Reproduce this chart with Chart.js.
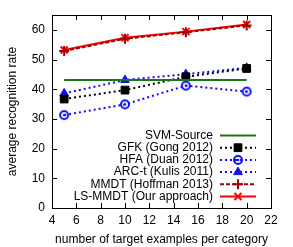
<!DOCTYPE html>
<html>
<head>
<meta charset="utf-8">
<script src="https://cdn.jsdelivr.net/npm/chart.js@4.4.1/dist/chart.umd.min.js"></script>
<style>
  body { margin: 0; background: #fff; }
  canvas { display: block; }
</style>
</head>
<body>
<canvas id="chart" width="293" height="247"></canvas>
<script>
// values
const examples = [5, 10, 15, 20];
const svmSource = [43.1, 43.1, 43.1, 43.1];
const gfk = [36.7, 39.7, 44.2, 47.0];
const hfa = [31.3, 34.9, 41.2, 39.2];
const arct = [38.6, 43.1, 45.1, 47.2];
const mmdt = [52.9, 57.0, 59.2, 61.5];
const lsmmdt = [53.2, 57.3, 59.4, 61.8];
const seriesNames = ["SVM-Source", "GFK (Gong 2012)", "HFA (Duan 2012)", "ARC-t (Kulis 2011)", "MMDT (Hoffman 2013)", "LS-MMDT (Our approach)"];
const xTicks = [4, 6, 8, 10, 12, 14, 16, 18, 20, 22];
const yTicks = [0, 10, 20, 30, 40, 50, 60];

const FONT = "'Liberation Sans', Arial, sans-serif";

// circle with a dot in the middle (HFA marker)
function ringDot(color) {
  const c = document.createElement("canvas");
  c.width = 12; c.height = 12;
  const g = c.getContext("2d");
  g.strokeStyle = color;
  g.lineWidth = 2;
  g.beginPath(); g.arc(6, 6, 4, 0, Math.PI * 2); g.stroke();
  g.fillStyle = color;
  g.beginPath(); g.arc(6, 6, 1.3, 0, Math.PI * 2); g.fill();
  return c;
}

function pts(arr) {
  return arr.map((v, i) => ({ x: examples[i], y: v }));
}

const BLUE = "#1010f0";
const hfaMark = ringDot(BLUE);

const datasets = [
  { label: seriesNames[0], data: pts(svmSource), borderColor: "#1a751a", borderWidth: 2, pointRadius: 0, pointStyle: false },
  { label: seriesNames[1], data: pts(gfk), borderColor: "#000", borderWidth: 2, borderDash: [2, 3], pointStyle: "rect", pointRadius: 5.5, pointBackgroundColor: "#000", pointBorderColor: "#000", pointBorderWidth: 1 },
  { label: seriesNames[2], data: pts(hfa), borderColor: BLUE, borderWidth: 2, borderDash: [2, 3], pointStyle: hfaMark, pointRadius: 5 },
  { label: seriesNames[3], data: pts(arct), borderColor: BLUE, borderWidth: 2, borderDash: [2, 3], pointStyle: "triangle", pointRadius: 5, pointBackgroundColor: BLUE, pointBorderColor: BLUE, pointBorderWidth: 1 },
  { label: seriesNames[4], data: pts(mmdt), borderColor: "#a00000", borderWidth: 2, borderDash: [4, 2], pointStyle: "cross", pointRadius: 5, pointBorderColor: "#a00000", pointBorderWidth: 2 },
  { label: seriesNames[5], data: pts(lsmmdt), borderColor: "#ff0000", borderWidth: 2, pointStyle: "crossRot", pointRadius: 5, pointBorderColor: "#ff0000", pointBorderWidth: 2 }
];

// gnuplot style: box round the plot, ticks inward on all four sides
const frame = {
  id: "frame",
  afterDatasetsDraw(chart) {
    const ctx = chart.ctx;
    const a = chart.chartArea;
    const xs = chart.scales.x, ys = chart.scales.y;
    ctx.save();
    ctx.strokeStyle = "#000";
    ctx.lineWidth = 1;
    ctx.strokeRect(Math.round(a.left) + 0.5, Math.round(a.top) + 0.5, Math.round(a.right - a.left), Math.round(a.bottom - a.top));
    ctx.beginPath();
    xTicks.forEach(v => {
      const px = Math.round(xs.getPixelForValue(v)) + 0.5;
      ctx.moveTo(px, a.bottom); ctx.lineTo(px, a.bottom - 5);
      ctx.moveTo(px, a.top); ctx.lineTo(px, a.top + 5);
    });
    yTicks.forEach(v => {
      const py = Math.round(ys.getPixelForValue(v)) + 0.5;
      ctx.moveTo(a.left, py); ctx.lineTo(a.left + 5, py);
      ctx.moveTo(a.right, py); ctx.lineTo(a.right - 5, py);
    });
    ctx.stroke();

    // legend: text right aligned, sample to the right
    ctx.font = "12px " + FONT;
    ctx.textAlign = "right";
    ctx.textBaseline = "middle";
    ctx.fillStyle = "#000";
    datasets.forEach((ds, i) => {
      const y = 135.5 + i * 12.2;
      ctx.fillText(ds.label, 213, y);
      ctx.save();
      ctx.strokeStyle = ds.borderColor;
      ctx.lineWidth = ds.borderWidth;
      ctx.setLineDash(ds.borderDash || []);
      ctx.beginPath(); ctx.moveTo(220, y); ctx.lineTo(256, y); ctx.stroke();
      ctx.restore();
      if (ds.pointStyle) {
        ctx.save();
        ctx.fillStyle = ds.pointBackgroundColor || ds.borderColor;
        ctx.strokeStyle = ds.pointBorderColor || ds.borderColor;
        ctx.lineWidth = ds.pointBorderWidth || 1;
        Chart.helpers.drawPoint(ctx, { pointStyle: ds.pointStyle, radius: ds.pointRadius, rotation: 0, borderWidth: ds.pointBorderWidth || 1 }, 238, y);
        ctx.restore();
      }
    });
    ctx.restore();
  }
};

new Chart(document.getElementById("chart"), {
  type: "line",
  data: { datasets: datasets },
  options: {
    responsive: false,
    animation: false,
    layout: { padding: { top: 15, right: 22, left: 0, bottom: 0 } },
    plugins: { legend: { display: false }, tooltip: { enabled: false } },
    scales: {
      x: {
        type: "linear", min: 4, max: 22,
        grid: { display: false, drawTicks: false },
        border: { display: false },
        ticks: { stepSize: 2, padding: 5, color: "#000", font: { family: FONT, size: 12 } },
        title: { display: true, text: "number of target examples per category", color: "#000", font: { family: FONT, size: 12 }, padding: { top: 4, bottom: 0 } },
        afterFit(s) { s.height = 39; }
      },
      y: {
        min: 0, max: 65,
        grid: { display: false, drawTicks: false },
        border: { display: false },
        ticks: { stepSize: 10, padding: 7, color: "#000", font: { family: FONT, size: 12 } },
        afterBuildTicks(s) { s.ticks = s.ticks.filter(t => t.value % 10 === 0); },
        title: { display: true, text: "average recognition rate", color: "#000", font: { family: FONT, size: 12 }, padding: { top: 5, bottom: 2 } },
        afterFit(s) { s.width = 52; }
      }
    }
  },
  plugins: [frame]
});
</script>
</body>
</html>
